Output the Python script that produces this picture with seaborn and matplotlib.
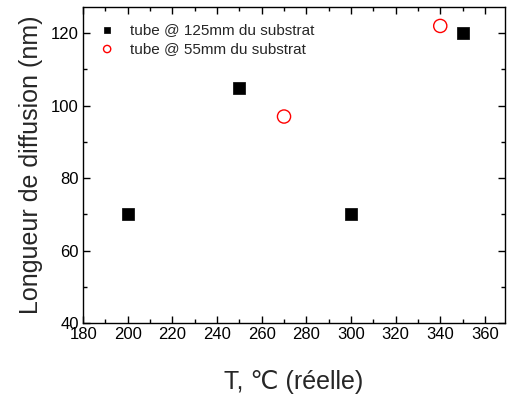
import pandas as pd
import matplotlib
matplotlib.use("Agg")
import matplotlib.pyplot as plt
import seaborn as sns
from matplotlib.ticker import MultipleLocator

# données
temp_125 = [200, 250, 300, 350]
long_125 = [70, 105, 70, 120]
temp_55 = [270, 340]
long_55 = [97, 122]
label_125 = "tube @ 125mm du substrat"
label_55 = "tube @ 55mm du substrat"

sns.set_style("ticks")
plt.rcParams['font.family'] = ['Liberation Sans', 'DejaVu Sans']

df = pd.concat([
    pd.DataFrame({"T": temp_125, "L": long_125, "serie": label_125}),
    pd.DataFrame({"T": temp_55, "L": long_55, "serie": label_55}),
])

fig = plt.figure(figsize=(5.07, 3.94), dpi=100)
ax = fig.add_axes([0.164, 0.180, 0.832, 0.802])

sns.scatterplot(data=df[df.serie == label_125], x="T", y="L", ax=ax,
                marker="s", s=75, color="black", edgecolor="black",
                linewidth=0.5, label=label_125)
sns.scatterplot(data=df[df.serie == label_55], x="T", y="L", ax=ax,
                marker="o", s=90, facecolor="none", edgecolor="red",
                linewidth=1.0, label=label_55)

ax.set_xlim(180, 369)
ax.set_ylim(40, 127.2)
ax.xaxis.set_major_locator(MultipleLocator(20))
ax.xaxis.set_minor_locator(MultipleLocator(10))
ax.yaxis.set_major_locator(MultipleLocator(20))
ax.yaxis.set_minor_locator(MultipleLocator(10))
ax.tick_params(which="both", direction="in", top=True, right=True,
               labelsize=12, width=1, pad=3, colors="black")
ax.tick_params(which="major", length=5)
ax.tick_params(which="minor", length=3)
for sp in ax.spines.values():
    sp.set_linewidth(1)
    sp.set_color("black")

ax.set_xlabel("T, ℃ (réelle)", fontsize=18, labelpad=20)
ax.set_ylabel("Longueur de diffusion (nm)", fontsize=18, labelpad=6)

leg = ax.legend(loc="upper left", frameon=False, fontsize=11, markerscale=0.55,
                handletextpad=1.0, borderaxespad=0.67, labelspacing=0.3,
                handlelength=1.0)

fig.savefig("out.png", dpi=100)
